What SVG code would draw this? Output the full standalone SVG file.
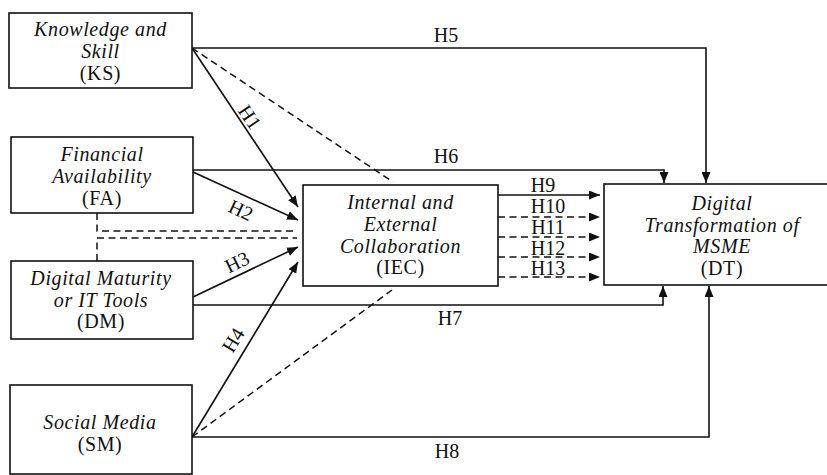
<svg xmlns="http://www.w3.org/2000/svg" width="827" height="475" viewBox="0 0 827 475">
<style>
.box{fill:#fff;stroke:#111;stroke-width:1.6}
.ln{fill:none;stroke:#111;stroke-width:1.6}
.dash{fill:none;stroke:#111;stroke-width:1.5;stroke-dasharray:7,4.5}
.t{font-family:"Liberation Serif","Times New Roman",serif;font-size:20px;letter-spacing:0.6px;fill:#111;text-anchor:middle}
.i{font-style:italic}
.h{font-family:"Liberation Serif","Times New Roman",serif;font-size:20px;fill:#111;text-anchor:middle}
</style>
<defs>
<marker id="ah" markerUnits="userSpaceOnUse" markerWidth="11" markerHeight="9" refX="11" refY="4.5" orient="auto">
<path d="M0,0 L11,4.5 L0,9 z" fill="#111"/>
</marker>
</defs>
<rect width="827" height="475" fill="#fff"/>
<g id="connectors">
<polyline class="ln" points="192,48 706,48 706,183" marker-end="url(#ah)"/>
<polyline class="ln" points="193,170 664,170 664,183" marker-end="url(#ah)"/>
<polyline class="ln" points="193,305 663,305 663,286" marker-end="url(#ah)"/>
<polyline class="ln" points="192,437 709,437 709,286" marker-end="url(#ah)"/>
<line class="ln" x1="192" y1="48" x2="298" y2="207" marker-end="url(#ah)"/>
<line class="ln" x1="193" y1="172" x2="298" y2="220" marker-end="url(#ah)"/>
<line class="ln" x1="193" y1="297" x2="298" y2="247" marker-end="url(#ah)"/>
<line class="ln" x1="192" y1="437" x2="298" y2="262" marker-end="url(#ah)"/>
<line class="dash" x1="192" y1="48" x2="393" y2="182"/>
<line class="dash" x1="192" y1="437" x2="392" y2="290"/>
<polyline class="dash" points="97,213 97,231 297,231"/>
<polyline class="dash" points="97,261 97,238 297,238"/>
<line class="ln" x1="498" y1="195" x2="600" y2="195" marker-end="url(#ah)"/>
<line class="dash" x1="498" y1="217" x2="600" y2="217" marker-end="url(#ah)"/>
<line class="dash" x1="498" y1="237" x2="600" y2="237" marker-end="url(#ah)"/>
<line class="dash" x1="498" y1="257" x2="600" y2="257" marker-end="url(#ah)"/>
<line class="dash" x1="498" y1="277" x2="600" y2="277" marker-end="url(#ah)"/>
<text class="h" x="446" y="42">H5</text>
<text class="h" x="446" y="163">H6</text>
<text class="h" x="450" y="325">H7</text>
<text class="h" x="447" y="458">H8</text>
<text class="h" transform="translate(250,117) rotate(56)" y="7">H1</text>
<text class="h" transform="translate(241,210) rotate(25)" y="7">H2</text>
<text class="h" transform="translate(237,262) rotate(-25.5)" y="7">H3</text>
<text class="h" transform="translate(233,340) rotate(-59)" y="7">H4</text>
<text class="h" x="543" y="192">H9</text>
<text class="h" x="548" y="213">H10</text>
<text class="h" x="548" y="234">H11</text>
<text class="h" x="548" y="255">H12</text>
<text class="h" x="548" y="275">H13</text>
</g>
<g id="KS">
<rect class="box" x="9" y="13" width="183" height="75"/>
<text class="t i" x="100.5" y="36">Knowledge and</text>
<text class="t i" x="100.5" y="58">Skill</text>
<text class="t" x="100.5" y="80">(KS)</text>
</g>
<g id="FA">
<rect class="box" x="11" y="137" width="182" height="76"/>
<text class="t i" x="102" y="161">Financial</text>
<text class="t i" x="102" y="183">Availability</text>
<text class="t" x="102" y="205">(FA)</text>
</g>
<g id="DM">
<rect class="box" x="11" y="261" width="182" height="78"/>
<text class="t i" x="101" y="285">Digital Maturity</text>
<text class="t i" x="101" y="307">or IT Tools</text>
<text class="t" x="101" y="328">(DM)</text>
</g>
<g id="SM">
<rect class="box" x="10" y="385" width="182" height="89"/>
<text class="t i" x="100" y="429">Social Media</text>
<text class="t" x="100" y="451">(SM)</text>
</g>
<g id="IEC">
<rect class="box" x="303" y="185" width="195" height="101"/>
<text class="t i" x="400.5" y="209">Internal and</text>
<text class="t i" x="400.5" y="231">External</text>
<text class="t i" x="400.5" y="253">Collaboration</text>
<text class="t" x="400.5" y="274">(IEC)</text>
</g>
<g id="DT">
<rect class="box" x="604" y="184" width="230" height="101"/>
<text class="t i" x="722" y="210">Digital</text>
<text class="t i" x="722" y="232">Transformation of</text>
<text class="t i" x="722" y="253">MSME</text>
<text class="t" x="722" y="275">(DT)</text>
</g>
</svg>
